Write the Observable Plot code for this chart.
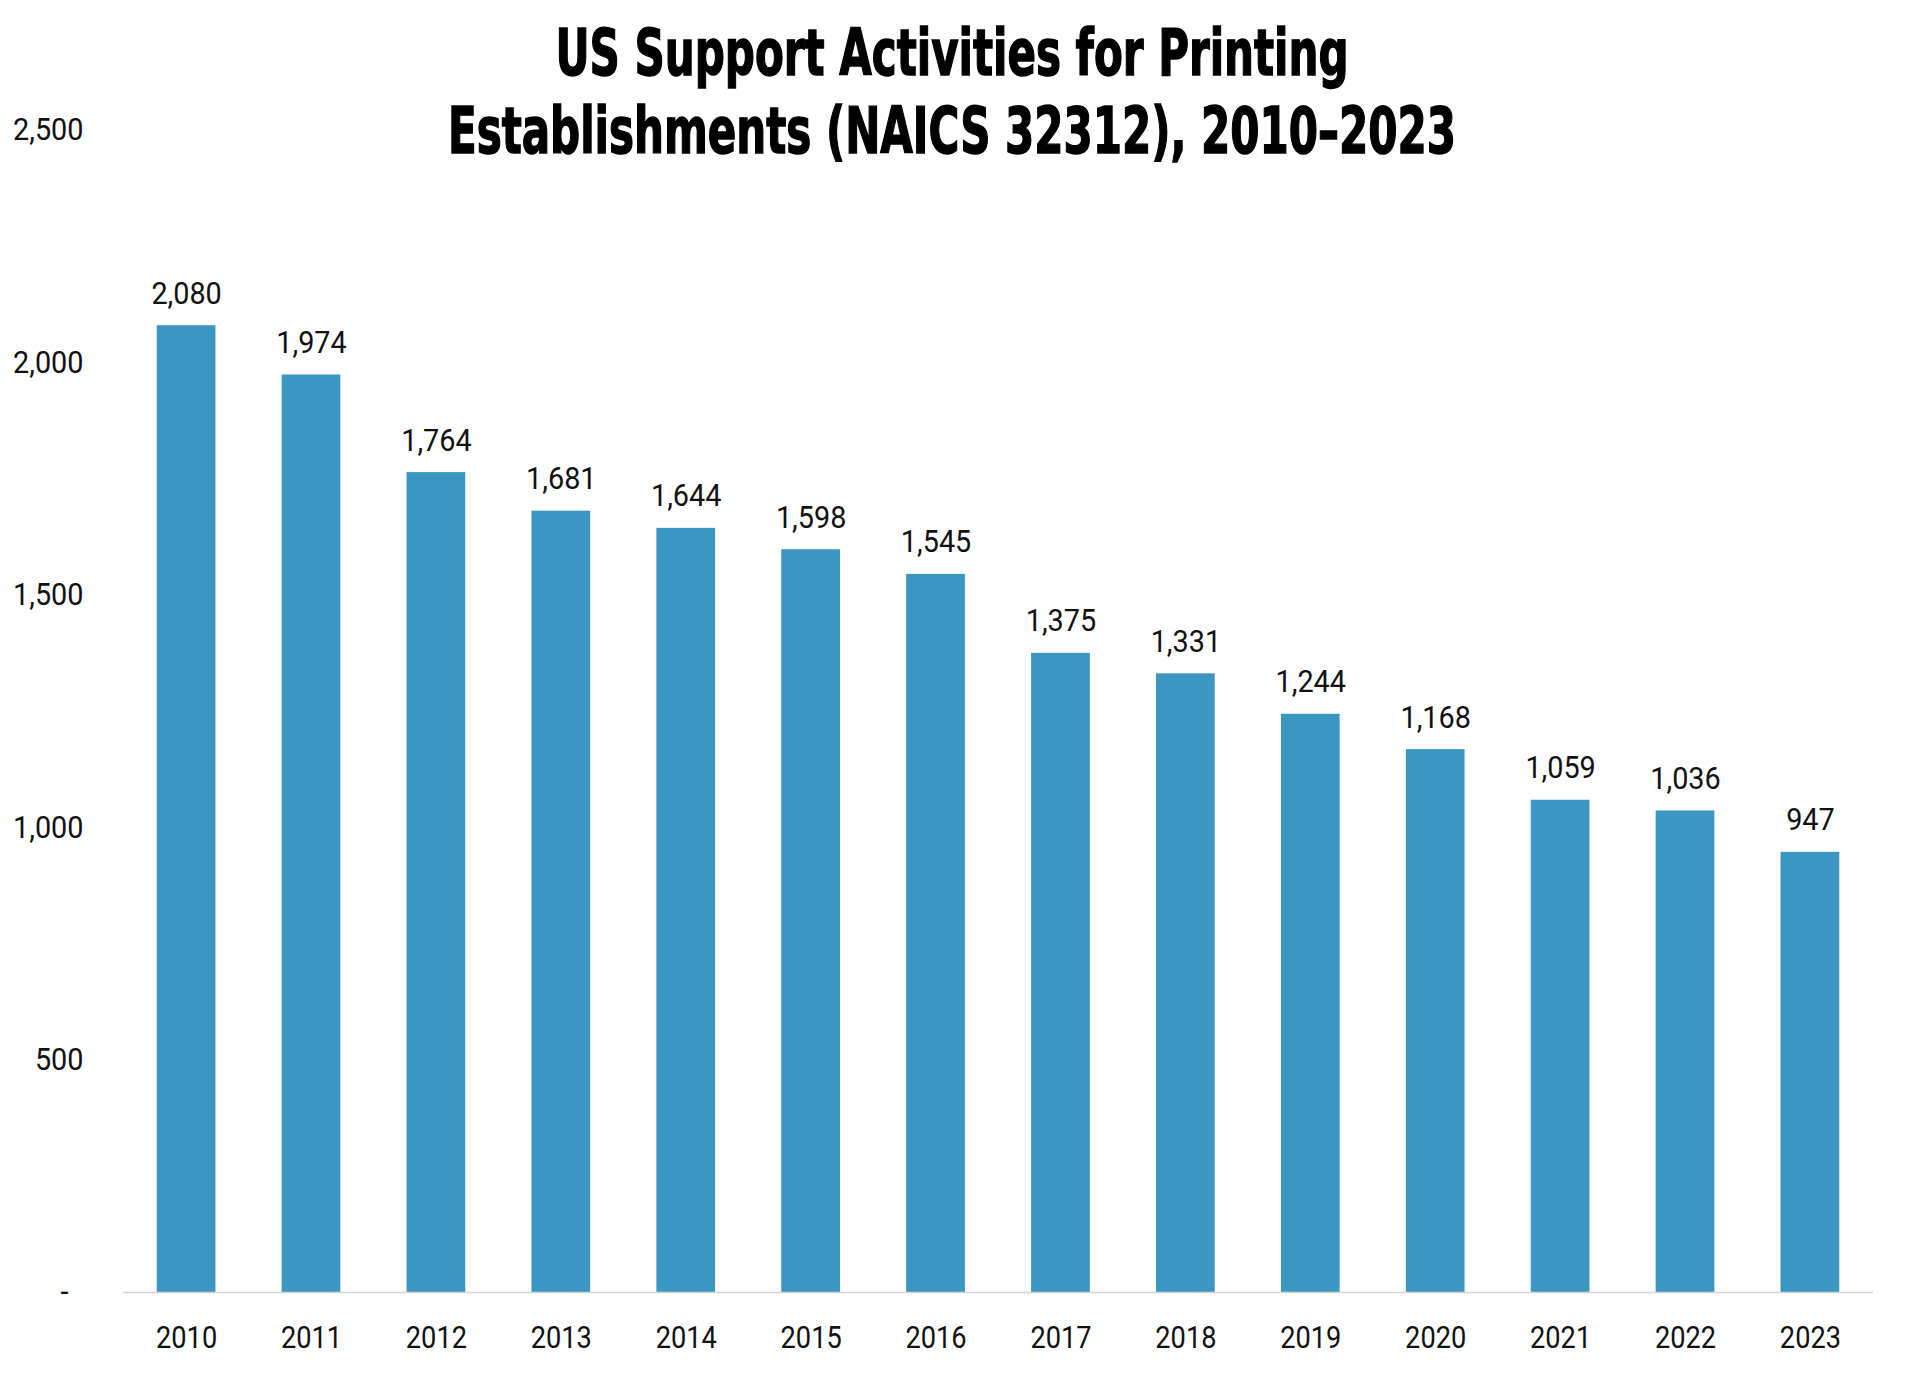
<!DOCTYPE html>
<html>
<head>
<meta charset="utf-8">
<script src="https://cdn.jsdelivr.net/npm/d3@7"></script>
<script src="https://cdn.jsdelivr.net/npm/@observablehq/plot@0.6"></script>
<style>
  html, body { margin: 0; padding: 0; background: #fff; }
  #wrap { position: relative; width: 1920px; height: 1395px; overflow: hidden; }
  #title {
    position: absolute; left: 0; top: 14px; width: 1904px; text-align: center;
    font-family: "DejaVu Sans Condensed", "DejaVu Sans", sans-serif;
    font-weight: 700; font-size: 64px; line-height: 78px; color: #000; z-index: 2;
    -webkit-text-stroke: 1.4px #000;
    transform: scaleX(0.73); transform-origin: 952px 0;
  }
  #chart { position: absolute; left: 0; top: 0; }
</style>
</head>
<body>
<div id="wrap">
  <div id="title">US Support Activities for Printing<br>Establishments (NAICS 32312), 2010–2023</div>
  <div id="chart"></div>
</div>
<script>
const years = ["2010","2011","2012","2013","2014","2015","2016","2017","2018","2019","2020","2021","2022","2023"];
const establishments = [2080,1974,1764,1681,1644,1598,1545,1375,1331,1244,1168,1059,1036,947];
const yTicks = [500,1000,1500,2000,2500];

const data = years.map((y, i) => ({year: y, value: establishments[i]}));
const fmt = d3.format(",");
const FONT = "Roboto, 'Noto Sans', sans-serif";

const plot = Plot.plot({
  width: 1920,
  height: 1395,
  marginTop: 130,
  marginBottom: 103,
  marginLeft: 123,
  marginRight: 47,
  style: {fontFamily: FONT, color: "#111", background: "transparent"},
  x: {domain: years, paddingInner: 0.53, paddingOuter: 0.27, round: false, label: null},
  y: {domain: [0, 2500], label: null},
  marks: [
    Plot.barY(data, {x: "year", y: "value", fill: "#3b97c1"}),
    Plot.ruleY([0], {stroke: "#d4d4d4", strokeWidth: 1.5}),
    Plot.text(data, {x: "year", y: "value", text: d => fmt(d.value), dy: -22, lineAnchor: "bottom", fontSize: 32, fill: "#111", className: "vlab"}),
    Plot.axisX({tickSize: 0, tickPadding: 33, fontSize: 32, label: null, fill: "#111", className: "xlab"}),
    Plot.axisY(yTicks, {tickSize: 0, tickPadding: 40, fontSize: 31, label: null, tickFormat: fmt, fill: "#111", className: "ylab"}),
    Plot.axisY([0], {tickSize: 0, tickPadding: 55, fontSize: 31, label: null, tickFormat: () => "-", fill: "#111", className: "ylab"})
  ]
});
document.getElementById("chart").appendChild(plot);

// condense the text horizontally to mimic the narrow typeface of the original
function condense(selector, factor) {
  plot.querySelectorAll(selector).forEach(t => {
    const len = t.getComputedTextLength();
    if (len > 0) {
      t.setAttribute("textLength", (len * factor).toFixed(2));
      t.setAttribute("lengthAdjust", "spacingAndGlyphs");
    }
  });
}
condense(".xlab text", 0.85);
condense(".vlab text", 0.9);
condense(".ylab text", 0.93);
</script>
</body>
</html>
